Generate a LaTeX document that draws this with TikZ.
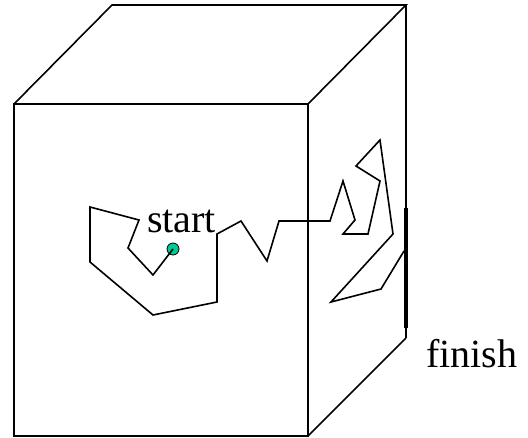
\documentclass[tikz,border=0pt]{standalone}
\usepackage{fontspec}
\setmainfont{Liberation Serif}
\definecolor{dotgreen}{RGB}{0,200,150}
\begin{document}
\begin{tikzpicture}[x=1pt,y=-1pt,
  edge/.style={line width=1.6pt,line join=miter},
  backedge/.style={line width=1.1pt},
  walk/.style={line width=1.6pt,line join=miter},
  lbl/.style={inner sep=0pt,anchor=base west,font=\fontsize{40}{48}\selectfont}]
\useasboundingbox (0,0) rectangle (528,437);
% cube corners
\coordinate (FTL) at (14,104);
\coordinate (FTR) at (308,104);
\coordinate (FBL) at (14,436);
\coordinate (FBR) at (308,436);
\coordinate (BTL) at (112,5);
\coordinate (BTR) at (406,5);
\coordinate (BBR) at (406,338);
\draw[edge] (FTL) -- (FTR) -- (FBR) -- (FBL) -- cycle;
\draw[edge] (FTL) -- (BTL) -- (BTR) -- (FTR);
\draw[edge] (FBR) -- (BBR);
\draw[backedge] (BTR) -- (BBR);
% finish bar
\coordinate (F1) at (406,208);
\coordinate (F2) at (406,328);
\draw[line width=4.5pt] (F1) -- (F2);
% start dot
\node[circle,draw=black,line width=0.8pt,fill=dotgreen,minimum size=12pt,inner sep=0pt] (dot) at (173,249) {};
% walk
\draw[walk] (dot.center) -- (153,275) -- (128,248) -- (139,220) -- (90,207) -- (90,262)
  -- (153,315) -- (217,302) -- (217,234) -- (241,221) -- (267,261) -- (279,221)
  -- (330,221) -- (343,181) -- (355,220) -- (343,234) -- (368,234) -- (380,181)
  -- (356,166) -- (380,140) -- (393,234) -- (331,302) -- (381,289) -- (404,251);
% labels
\node[lbl] (start) at (147,232) {start};
\node[lbl] (finish) at (426,367) {finish};
\end{tikzpicture}
\end{document}
